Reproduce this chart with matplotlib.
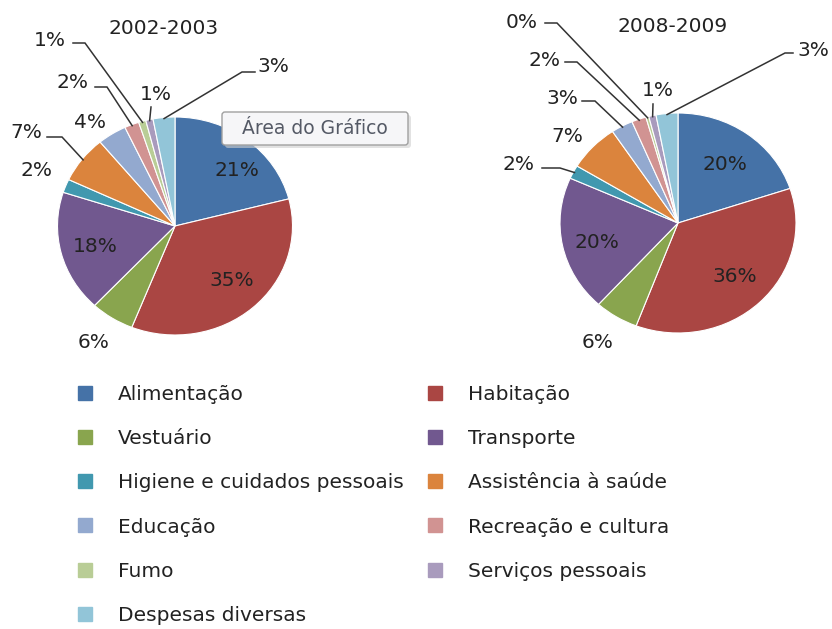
import matplotlib
matplotlib.use("Agg")
import matplotlib.pyplot as plt
from matplotlib.lines import Line2D
from matplotlib.patches import FancyBboxPatch
import numpy as np

plt.rcParams['font.family'] = ['DejaVu Sans']

W, H = 832, 629

categories = ["Alimentação", "Habitação", "Vestuário", "Transporte",
              "Higiene e cuidados pessoais", "Assistência à saúde", "Educação",
              "Recreação e cultura", "Fumo", "Serviços pessoais", "Despesas diversas"]
colors = ["#4572A7", "#AA4643", "#89A54E", "#71588F", "#4198AF", "#DB843D",
          "#93A9CF", "#D19392", "#B9CD96", "#A99BBD", "#92C5D8"]

titles = ["2002-2003", "2008-2009"]
values_2002 = [21, 35, 6, 18, 2, 7, 4, 2, 1, 1, 3]
values_2008 = [20, 36, 6, 20, 2, 7, 3, 2, 0.4, 1, 3]

TXT = "#222222"
FS = 14.5

# layout: pie centre / radii in pixels, title position
pies = [
    dict(values=values_2002, title=titles[0], cx=175, cy=226, rx=117.5, ry=109,
         title_pos=(164, 28),
         # label centre (px), elbow start/end (px) or None
         labels=[((237, 170), None), ((232, 281), None), ((94, 343), None),
                 ((95, 247), None), ((36, 171), None),
                 ((26, 132), ((47, 137), (62, 137))),
                 ((90, 122), None),
                 ((72, 82), ((95, 87), (107, 87))),
                 ((50, 40), ((73, 43), (85, 43))),
                 ((156, 95), ((151, 107), None)),
                 ((273, 67), ((255, 72), (242, 72)))]),
    dict(values=values_2008, title=titles[1], cx=678, cy=223, rx=118, ry=110,
         title_pos=(673, 27),
         labels=[((725, 165), None), ((735, 277), None), ((598, 342), None),
                 ((597, 242), None),
                 ((519, 164), ((542, 168), (560, 168))),
                 ((567, 137), None),
                 ((562, 99), ((582, 101), (595, 101))),
                 ((545, 61), ((565, 62), (577, 62))),
                 ((522, 22), ((545, 23), (557, 23))),
                 ((658, 91), ((653, 104), None)),
                 ((813, 50), ((793, 53), (785, 53)))]),
]

fig = plt.figure(figsize=(W / 100, H / 100), dpi=100)
fig.patch.set_facecolor("white")

for p in pies:
    cx, cy, rx, ry = p["cx"], p["cy"], p["rx"], p["ry"]
    ax = fig.add_axes([(cx - rx) / W, (H - cy - ry) / H, 2 * rx / W, 2 * ry / H])
    wedges, _ = ax.pie(p["values"], colors=colors, startangle=90, counterclock=False,
                       radius=1, wedgeprops=dict(edgecolor="white", linewidth=0.8))
    ax.set_aspect("auto")
    ax.set_xlim(-1, 1)
    ax.set_ylim(-1, 1)
    ax.axis("off")

    def to_data(px, py):
        return (px - cx) / rx, (cy - py) / ry

    for w, v, (pos, line) in zip(wedges, p["values"], p["labels"]):
        tx, ty = to_data(*pos)
        ax.text(tx, ty, f"{int(round(v))}%", ha="center", va="center",
                fontsize=FS, color=TXT, clip_on=False)
        if line is not None:
            mid = np.deg2rad((w.theta1 + w.theta2) / 2)
            ex, ey = np.cos(mid) * 0.99, np.sin(mid) * 0.99
            a = to_data(*line[0])
            if line[1] is None:
                xs, ys = [a[0], ex], [a[1], ey]
            else:
                b = to_data(*line[1])
                xs, ys = [a[0], b[0], ex], [a[1], b[1], ey]
            ax.plot(xs, ys, color="#333333", lw=1.1, clip_on=False,
                    solid_joinstyle="miter")

    fig.text(p["title_pos"][0] / W, 1 - p["title_pos"][1] / H, p["title"],
             ha="center", va="center", fontsize=FS, color=TXT)

# tooltip "Área do Gráfico"
shadow = FancyBboxPatch((2.25, 4.81), 1.86, 0.33, boxstyle="round,pad=0,rounding_size=0.03",
                        transform=fig.dpi_scale_trans, fc="#d0d0d0", ec="none", alpha=0.6)
box = FancyBboxPatch((2.22, 4.84), 1.86, 0.33, boxstyle="round,pad=0,rounding_size=0.03",
                     transform=fig.dpi_scale_trans, fc="#f6f6f8", ec="#a0a0a0", lw=1)
fig.add_artist(shadow)
fig.add_artist(box)
fig.text(3.15 / (W / 100), (4.84 + 0.165) / (H / 100), "Área do Gráfico",
         ha="center", va="center", fontsize=13.5, color="#555a66")

# legend in two columns
def handle(c):
    return Line2D([], [], marker="s", linestyle="none", markersize=10,
                  markerfacecolor=c, markeredgecolor=c)

col1 = [0, 2, 4, 6, 8, 10]
col2 = [1, 3, 5, 7, 9]
for idx, xpx in ((col1, 75), (col2, 425)):
    leg = fig.legend([handle(colors[i]) for i in idx], [categories[i] for i in idx],
                     loc="upper left", bbox_to_anchor=(xpx / W, 1 - 385 / H),
                     frameon=False, fontsize=FS, handlelength=1.0, handletextpad=1.14,
                     labelspacing=1.25, borderpad=0, borderaxespad=0)
    for t in leg.get_texts():
        t.set_color(TXT)

fig.savefig("out.png", dpi=100)
